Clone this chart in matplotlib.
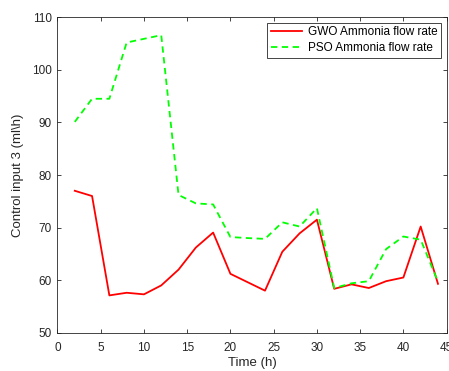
import matplotlib
matplotlib.use("Agg")
import matplotlib.pyplot as plt

plt.rcParams['font.family'] = ['Liberation Sans', 'DejaVu Sans']

time_h = [2, 4, 6, 8, 10, 12, 14, 16, 18, 20, 22, 24, 26, 28, 30, 32, 34, 36, 38, 40, 42, 44]
gwo = [77.0, 76.0, 57.1, 57.6, 57.3, 59.0, 62.0, 66.2, 69.05, 61.2, 59.6, 58.0,
       65.4, 68.9, 71.5, 58.35, 59.2, 58.5, 59.8, 60.5, 70.2, 59.3]
pso = [90.1, 94.5, 94.5, 105.2, 105.9, 106.6, 76.2, 74.6, 74.4, 68.2, 68.0, 67.85,
       71.0, 70.2, 73.7, 58.5, 59.4, 59.8, 65.9, 68.3, 67.7, 59.7]

fig = plt.figure(figsize=(4.49, 3.71), dpi=100)
ax = fig.add_axes([0.128, 0.1032, 0.8667, 0.8502])

ax.plot(time_h, gwo, color='red', lw=1.3, label='GWO Ammonia flow rate')
ax.plot(time_h, pso, color='#00ff00', lw=1.3, ls='--', dashes=(3.5, 2.5),
        label='PSO Ammonia flow rate')

ax.set_xlim(0, 45)
ax.set_ylim(50, 110)
ax.set_xticks(range(0, 46, 5))
ax.set_yticks(range(50, 111, 10))
ax.tick_params(direction='in', top=True, right=True, labelsize=8.5, length=3,
               color='#262626', labelcolor='#262626', width=0.6)
ax.tick_params(axis='x', pad=6.5)
ax.tick_params(axis='y', pad=4)
for s in ax.spines.values():
    s.set_color('#262626')
    s.set_linewidth(0.6)

ax.set_xlabel('Time (h)', fontsize=9.5, labelpad=2, color='#262626')
ax.set_ylabel('Control input 3 (ml\\h)', fontsize=9.5, labelpad=6, color='#262626')

leg = ax.legend(loc='upper right', bbox_to_anchor=(0.985, 0.983), fontsize=8.5,
                fancybox=False, framealpha=1, edgecolor='#262626', borderpad=0.3,
                handlelength=2.6, handletextpad=0.5, borderaxespad=0,
                labelspacing=0.33)
leg.get_frame().set_linewidth(0.6)

fig.savefig('out.png', dpi=100)
